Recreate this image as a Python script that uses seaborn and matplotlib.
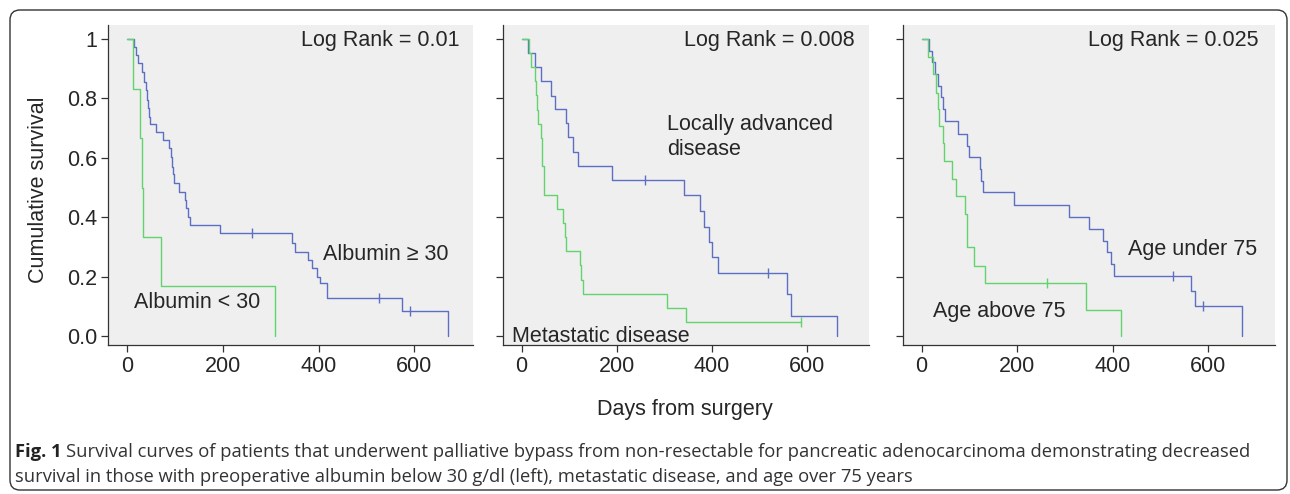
import pandas as pd
import seaborn as sns
import matplotlib.pyplot as plt
from matplotlib.patches import FancyBboxPatch

# Kaplan-Meier step values (days, cumulative survival)
alb_low_days = [0, 14, 28, 31, 34, 72, 309]
alb_low_surv = [1.0, 0.833, 0.667, 0.5, 0.333, 0.167, 0.0]
alb_high_days = [0, 16, 19, 23, 31, 37, 40, 42, 45, 47, 49, 62, 76, 89, 92, 94, 96,
                 99, 109, 121, 124, 128, 132, 194, 345, 351, 378, 387, 396, 403, 417, 573, 670]
alb_high_surv = [1.0, 0.974, 0.946, 0.918, 0.890, 0.856, 0.828, 0.795, 0.767, 0.739, 0.714,
                 0.687, 0.660, 0.632, 0.602, 0.570, 0.545, 0.514, 0.486, 0.458, 0.430, 0.402,
                 0.374, 0.346, 0.314, 0.284, 0.256, 0.228, 0.200, 0.177, 0.127, 0.085, 0.0]
alb_high_cens_days = [262, 526, 590]
alb_high_cens_surv = [0.346, 0.127, 0.085]

met_days = [0, 16, 19, 29, 31, 33, 35, 40, 42, 44, 47, 75, 88, 92, 94, 122, 126, 129, 305, 347, 588]
met_surv = [1.0, 0.952, 0.905, 0.857, 0.810, 0.762, 0.714, 0.667, 0.619, 0.571, 0.476, 0.429,
            0.381, 0.333, 0.286, 0.238, 0.190, 0.143, 0.095, 0.048, 0.048]
met_cens_days = [588]
met_cens_surv = [0.048]
loc_days = [0, 14, 28, 40, 62, 71, 94, 97, 108, 118, 191, 342, 375, 383, 394, 401, 414, 559, 567, 663]
loc_surv = [1.0, 0.954, 0.905, 0.859, 0.809, 0.764, 0.716, 0.671, 0.621, 0.573, 0.525, 0.475,
            0.422, 0.368, 0.315, 0.265, 0.211, 0.140, 0.068, 0.0]
loc_cens_days = [260, 519]
loc_cens_surv = [0.525, 0.211]

old_days = [0, 14, 23, 31, 35, 37, 45, 47, 64, 73, 90, 94, 96, 110, 132, 345, 417]
old_surv = [1.0, 0.940, 0.882, 0.817, 0.764, 0.708, 0.649, 0.590, 0.529, 0.473, 0.411, 0.355,
            0.299, 0.237, 0.177, 0.088, 0.0]
old_cens_days = [262]
old_cens_surv = [0.177]
young_days = [0, 16, 21, 28, 35, 40, 45, 49, 76, 96, 99, 122, 125, 129, 194, 309, 351, 379,
              388, 397, 403, 565, 573, 670]
young_surv = [1.0, 0.961, 0.921, 0.882, 0.843, 0.803, 0.764, 0.723, 0.680, 0.641, 0.602, 0.562,
              0.523, 0.484, 0.442, 0.402, 0.360, 0.321, 0.282, 0.242, 0.203, 0.153, 0.102, 0.0]
young_cens_days = [526, 590]
young_cens_surv = [0.203, 0.102]

log_rank = ["Log Rank = 0.01", "Log Rank = 0.008", "Log Rank = 0.025"]

blue = "#5b6fc4"
green = "#62d46e"
fs = 15.5

sns.set_style("white", {"axes.facecolor": "#efefef"})
plt.rcParams["font.family"] = ["Liberation Sans", "DejaVu Sans"]

fig = plt.figure(figsize=(12.9, 4.94), dpi=100)
lefts = [108, 503, 903]
rights = [473, 869, 1275]
xlims = [(-39, 722), (-39, 731), (-39, 740)]
axes = []
for l, r in zip(lefts, rights):
    axes.append(fig.add_axes([l / 1290, 1 - 345 / 494, (r - l) / 1290, 320 / 494]))

panels = [
    [(alb_high_days, alb_high_surv, alb_high_cens_days, alb_high_cens_surv, blue),
     (alb_low_days, alb_low_surv, [], [], green)],
    [(loc_days, loc_surv, loc_cens_days, loc_cens_surv, blue),
     (met_days, met_surv, met_cens_days, met_cens_surv, green)],
    [(young_days, young_surv, young_cens_days, young_cens_surv, blue),
     (old_days, old_surv, old_cens_days, old_cens_surv, green)],
]

for i, ax in enumerate(axes):
    for d, s, cd, cs, c in panels[i]:
        df = pd.DataFrame({"days": d, "surv": s})
        sns.lineplot(data=df, x="days", y="surv", drawstyle="steps-post", estimator=None,
                     sort=False, color=c, linewidth=1.0, ax=ax)
        if cd:
            sns.scatterplot(x=cd, y=cs, marker="|", s=45, linewidth=1.0, color=c, ax=ax, zorder=3)
    ax.set(xlim=xlims[i], ylim=(-0.03, 1.047), xlabel="", ylabel="")
    ax.set_xticks([0, 200, 400, 600])
    ax.set_yticks([0, 0.2, 0.4, 0.6, 0.8, 1.0])
    if i == 0:
        ax.set_yticklabels(["0.0", "0.2", "0.4", "0.6", "0.8", "1"])
    else:
        ax.set_yticklabels([])
    for side in ["top", "right"]:
        ax.spines[side].set_visible(False)
    for side in ["left", "bottom"]:
        ax.spines[side].set_color("#333333")
        ax.spines[side].set_linewidth(0.9)
    ax.tick_params(axis="both", direction="out", length=5, width=0.9, color="#333333",
                   labelsize=fs, pad=3, left=True, bottom=True)
    ax.text(0.962 if i < 2 else 0.955, 0.953, log_rank[i], transform=ax.transAxes,
            ha="right", va="center", fontsize=fs)

axes[0].set_ylabel("Cumulative survival", fontsize=fs)
axes[0].yaxis.set_label_coords(-0.163, 0.484)
axes[0].text(410, 0.276, "Albumin ≥ 30", fontsize=fs, va="center")
axes[0].text(15, 0.114, "Albumin < 30", fontsize=fs, va="center")
axes[1].text(306, 0.67, "Locally advanced\ndisease", fontsize=fs, va="center", linespacing=1.2)
axes[1].text(-20, 0.0, "Metastatic disease", fontsize=fs, va="center")
axes[2].text(432, 0.293, "Age under 75", fontsize=fs, va="center")
axes[2].text(24, 0.084, "Age above 75", fontsize=fs, va="center")

fig.text(685 / 1290, 1 - 410 / 494, "Days from surgery", ha="center", va="center", fontsize=fs)

# caption
cap_font = ["Open Sans", "DejaVu Sans"]
cap_fs = 13.2
t1 = fig.text(15 / 1290, 1 - 452 / 494, "Fig. 1", fontweight="bold", fontsize=cap_fs,
              family=cap_font, va="center", color="#222222")
fig.canvas.draw()
bb = t1.get_window_extent()
fig.text((bb.x1 + 4) / 1290, 1 - 452 / 494,
         "Survival curves of patients that underwent palliative bypass from non-resectable for "
         "pancreatic adenocarcinoma demonstrating decreased",
         fontsize=cap_fs, family=cap_font, va="center", color="#333333")
fig.text(15 / 1290, 1 - 477 / 494,
         "survival in those with preoperative albumin below 30 g/dl (left), metastatic disease, "
         "and age over 75 years",
         fontsize=cap_fs, family=cap_font, va="center", color="#333333")

fig.patches.append(FancyBboxPatch((10, 4), 1277, 480, boxstyle="round,pad=0,rounding_size=10",
                                  transform=None, fill=False, edgecolor="#333333", linewidth=1.0))

plt.savefig("out.png", dpi=100)
